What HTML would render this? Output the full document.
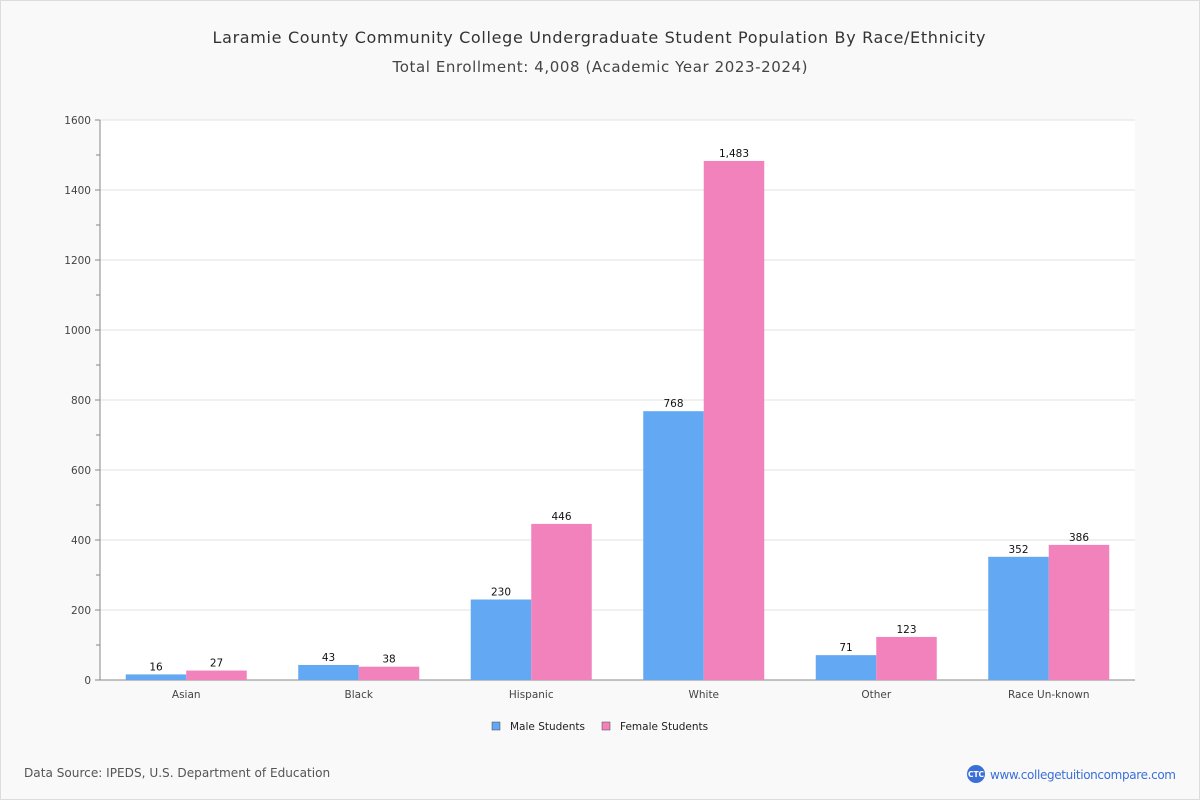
<!DOCTYPE html>
<html><head><meta charset="utf-8"><style>
body{margin:0;background:#fff}
#wrap{position:relative;width:1198px;height:798px;border:1px solid #ddd;background:#f9f9f9;font-family:"DejaVu Sans","Liberation Sans",sans-serif;overflow:hidden}
#svg{position:absolute;left:-1px;top:-1px}
</style></head><body>
<div id="wrap">
<svg id="svg" width="1200" height="800" xmlns="http://www.w3.org/2000/svg">
<text x="599" y="43" text-anchor="middle" font-size="16" textLength="773" fill="#333">Laramie County Community College Undergraduate Student Population By Race/Ethnicity</text>
<text x="600" y="72" text-anchor="middle" font-size="15" textLength="415" fill="#444">Total Enrollment: 4,008 (Academic Year 2023-2024)</text>
<rect x="100" y="120" width="1035" height="560" fill="#fff"/>
<g id="grid"></g><g id="bars"></g>
<g>
<rect x="492" y="722" width="8" height="8" fill="#63a8f2" stroke="#444" stroke-width="0.5"/>
<text x="510" y="730" font-size="10.5" fill="#222">Male Students</text>
<rect x="602" y="722" width="8" height="8" fill="#f282bb" stroke="#444" stroke-width="0.5"/>
<text x="620" y="730" font-size="10.5" fill="#222">Female Students</text>
</g>
<text x="24" y="777" font-size="12.1" fill="#555">Data Source: IPEDS, U.S. Department of Education</text>
<g>
<circle cx="976" cy="774" r="9" fill="#3b6fd8"/>
<text x="976" y="777" text-anchor="middle" font-size="7.5" font-weight="bold" fill="#fff">CTC</text>
<text x="990" y="779" font-size="12" textLength="186" fill="#3b6fd8">www.collegetuitioncompare.com</text>
</g>
</svg>
</div>
<script>
const categories=["Asian","Black","Hispanic","White","Other","Race Un-known"];
const maleValues=[16,43,230,768,71,352];
const femaleValues=[27,38,446,1483,123,386];
const yTicks=[0,200,400,600,800,1000,1200,1400,1600];
const NS="http://www.w3.org/2000/svg";
const x0=100,x1=1135,yB=680,yT=120,yMax=1600;
const y=v=>yB-(v/yMax)*(yB-yT);
const band=(x1-x0)/categories.length;
const grid=document.getElementById('grid'),bars=document.getElementById('bars');
function mk(tag,attrs,parent,text){const e=document.createElementNS(NS,tag);for(const k in attrs)e.setAttribute(k,attrs[k]);if(text!==undefined)e.textContent=text;parent.appendChild(e);return e;}
for(let v=0;v<=yMax;v+=100){
  mk('line',{x1:v%200?96:95,x2:100,y1:y(v),y2:y(v),stroke:'#888'},grid);
}
yTicks.forEach(v=>{
  if(v>0){const g=mk('line',{x1:100,x2:x1,y1:y(v),y2:y(v),stroke:'#e2e2e2'},grid);
  
  }
  const t=mk('text',{x:91,y:y(v)+4,'text-anchor':'end','font-size':10.5,fill:'#444'},grid,v);
  
  
});
mk('line',{x1:100,x2:100,y1:yT,y2:yB,stroke:'#888'},grid);
mk('line',{x1:100,x2:x1,y1:yB,y2:yB,stroke:'#888'},grid);
const fmt=v=>v.toLocaleString('en-US');
const bw=60.5;
categories.forEach((c,i)=>{
  const cx=x0+band*(i+0.5);
  [[maleValues[i],'#63a8f2',cx-bw,'male'],[femaleValues[i],'#f282bb',cx,'female']].forEach(([v,col,bx,s])=>{
    const r=mk('rect',{x:bx,y:y(v),width:bw,height:yB-y(v),fill:col},bars);
    
    
    const t=mk('text',{x:bx+bw/2,y:y(v)-4,'text-anchor':'middle','font-size':10.5,fill:'#111'},bars,fmt(v));
    
    
  });
  const l=mk('text',{x:cx,y:698,'text-anchor':'middle','font-size':10.5,fill:'#444'},bars,c);
  
  
});
</script>
</body></html>
